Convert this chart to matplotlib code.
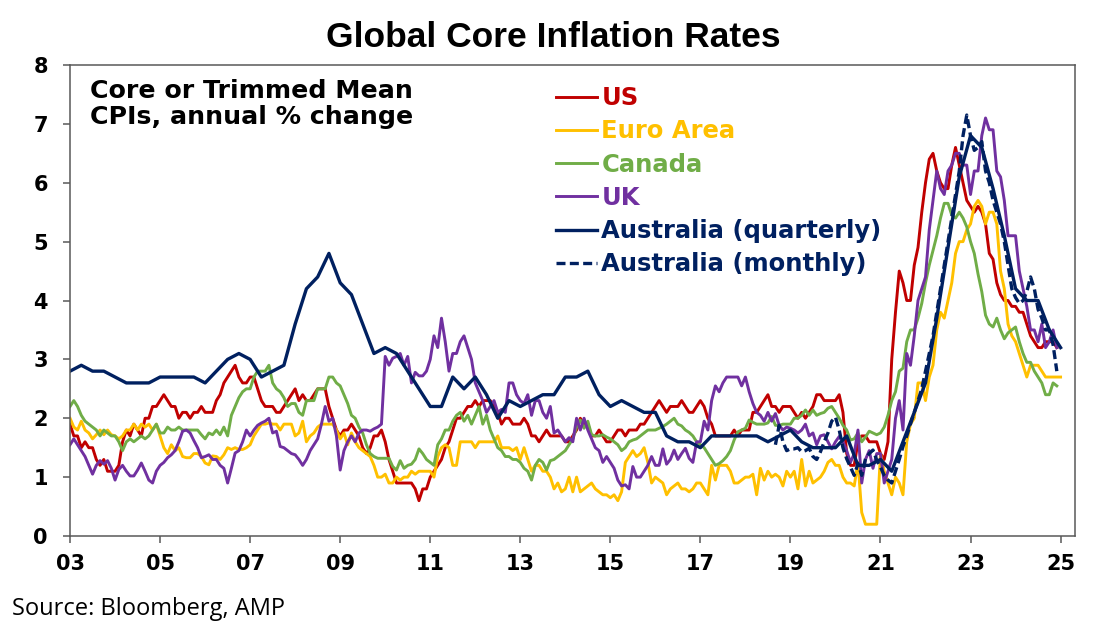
import numpy as np
import matplotlib
matplotlib.use('Agg')
import matplotlib.pyplot as plt

# monthly series, Jan 2003 .. Dec 2024 (one row per year)
us = [1.9, 1.7, 1.7, 1.5, 1.6, 1.5, 1.5, 1.3, 1.2, 1.3, 1.1, 1.1,
      1.1, 1.2, 1.6, 1.8, 1.7, 1.9, 1.8, 1.7, 2.0, 2.0, 2.2, 2.2,
      2.3, 2.4, 2.3, 2.2, 2.2, 2.0, 2.1, 2.1, 2.0, 2.1, 2.1, 2.2,
      2.1, 2.1, 2.1, 2.3, 2.4, 2.6, 2.7, 2.8, 2.9, 2.7, 2.6, 2.6,
      2.7, 2.7, 2.5, 2.3, 2.2, 2.2, 2.2, 2.1, 2.1, 2.2, 2.3, 2.4,
      2.5, 2.3, 2.4, 2.3, 2.3, 2.4, 2.5, 2.5, 2.5, 2.2, 2.0, 1.8,
      1.7, 1.8, 1.8, 1.9, 1.8, 1.7, 1.5, 1.4, 1.5, 1.7, 1.7, 1.8,
      1.6, 1.3, 1.1, 0.9, 0.9, 0.9, 0.9, 0.9, 0.8, 0.6, 0.8, 0.8,
      1.0, 1.1, 1.2, 1.3, 1.5, 1.6, 1.8, 2.0, 2.0, 2.1, 2.2, 2.2,
      2.3, 2.2, 2.3, 2.3, 2.3, 2.2, 2.1, 1.9, 2.0, 2.0, 1.9, 1.9,
      1.9, 2.0, 1.9, 1.7, 1.7, 1.6, 1.7, 1.8, 1.7, 1.7, 1.7, 1.7,
      1.6, 1.6, 1.7, 1.8, 2.0, 1.9, 1.9, 1.7, 1.7, 1.8, 1.7, 1.6,
      1.6, 1.7, 1.8, 1.8, 1.7, 1.8, 1.8, 1.8, 1.9, 1.9, 2.0, 2.1,
      2.2, 2.3, 2.2, 2.1, 2.2, 2.2, 2.2, 2.3, 2.2, 2.1, 2.1, 2.2,
      2.3, 2.2, 2.0, 1.9, 1.7, 1.7, 1.7, 1.7, 1.7, 1.8, 1.7, 1.8,
      1.8, 1.8, 2.1, 2.1, 2.2, 2.3, 2.4, 2.2, 2.2, 2.1, 2.2, 2.2,
      2.2, 2.1, 2.0, 2.1, 2.0, 2.1, 2.2, 2.4, 2.4, 2.3, 2.3, 2.3,
      2.3, 2.4, 2.1, 1.4, 1.2, 1.2, 1.6, 1.7, 1.7, 1.6, 1.6, 1.6,
      1.4, 1.3, 1.6, 3.0, 3.8, 4.5, 4.3, 4.0, 4.0, 4.6, 4.9, 5.5,
      6.0, 6.4, 6.5, 6.2, 6.0, 5.9, 5.9, 6.3, 6.6, 6.3, 6.0, 5.7,
      5.6, 5.5, 5.6, 5.5, 5.3, 4.8, 4.7, 4.3, 4.1, 4.0, 4.0, 3.9,
      3.9, 3.8, 3.8, 3.6, 3.4, 3.3, 3.2, 3.2, 3.3, 3.3, 3.3, 3.2]

# euro area runs one month longer (Jan 2025)
euro = [2.0, 1.85, 1.8, 1.95, 1.8, 1.75, 1.65, 1.72, 1.8, 1.72, 1.8, 1.72,
        1.7, 1.65, 1.7, 1.8, 1.8, 1.9, 1.8, 1.9, 1.85, 1.9, 1.8, 1.9,
        1.7, 1.5, 1.4, 1.55, 1.45, 1.5, 1.35, 1.33, 1.33, 1.4, 1.4, 1.35,
        1.24, 1.21, 1.36, 1.35, 1.3, 1.38, 1.5, 1.47, 1.5, 1.47, 1.47, 1.5,
        1.55, 1.7, 1.8, 1.9, 1.9, 1.92, 1.9, 1.9, 1.8, 1.9, 1.9, 1.9,
        1.7, 1.75, 1.95, 1.6, 1.7, 1.75, 1.85, 1.9, 1.9, 1.9, 1.9, 1.8,
        1.65, 1.75, 1.55, 1.75, 1.6, 1.5, 1.45, 1.4, 1.35, 1.2, 1.0, 1.0,
        1.05, 0.9, 0.9, 1.0, 0.95, 1.0, 1.0, 1.1, 1.05, 1.1, 1.1, 1.1,
        1.1, 1.0, 1.35, 1.5, 1.55, 1.5, 1.2, 1.2, 1.6, 1.6, 1.6, 1.6,
        1.5, 1.6, 1.6, 1.6, 1.6, 1.6, 1.7, 1.5, 1.5, 1.5, 1.45, 1.5,
        1.3, 1.5, 1.3, 1.1, 1.2, 1.2, 1.1, 1.1, 1.0, 0.8, 0.9, 0.75,
        0.8, 1.0, 0.75, 1.0, 0.75, 0.8, 0.85, 0.9, 0.8, 0.75, 0.7, 0.7,
        0.65, 0.7, 0.6, 0.75, 1.25, 1.35, 1.45, 1.35, 1.4, 1.5, 1.25, 0.9,
        1.0, 0.95, 0.9, 0.7, 0.8, 0.85, 0.9, 0.8, 0.8, 0.75, 0.8, 0.9,
        0.9, 0.8, 0.7, 1.2, 0.95, 1.2, 1.2, 1.2, 1.1, 0.9, 0.9, 0.95,
        1.0, 1.0, 1.05, 0.7, 1.15, 0.95, 1.1, 1.0, 1.05, 1.0, 0.85, 1.1,
        1.0, 1.1, 0.8, 1.3, 0.85, 1.1, 0.9, 0.95, 1.0, 1.1, 1.25, 1.3,
        1.2, 1.2, 1.0, 0.9, 0.9, 0.85, 1.25, 0.4, 0.2, 0.2, 0.2, 0.2,
        1.4, 1.1, 0.9, 0.7, 1.0, 0.9, 0.7, 1.6, 1.9, 2.0, 2.6, 2.6,
        2.3, 2.7, 2.9, 3.5, 3.8, 3.7, 4.0, 4.3, 4.8, 5.0, 5.0, 5.2,
        5.3, 5.6, 5.7, 5.6, 5.3, 5.5, 5.5, 5.3, 4.5, 4.2, 3.6, 3.4,
        3.3, 3.1, 2.9, 2.7, 2.9, 2.9, 2.9, 2.8, 2.7, 2.7, 2.7, 2.7,
        2.7]

canada = [2.2, 2.3, 2.2, 2.05, 1.95, 1.9, 1.85, 1.8, 1.7, 1.8, 1.75, 1.7,
          1.7, 1.6, 1.45, 1.6, 1.65, 1.6, 1.65, 1.7, 1.65, 1.7, 1.8, 1.9,
          1.75, 1.75, 1.85, 1.8, 1.8, 1.85, 1.8, 1.8, 1.8, 1.8, 1.8, 1.72,
          1.65, 1.75, 1.72, 1.8, 1.72, 1.85, 1.7, 2.05, 2.2, 2.35, 2.45, 2.5,
          2.5, 2.7, 2.8, 2.8, 2.8, 2.9, 2.6, 2.5, 2.45, 2.35, 2.2, 2.25,
          2.25, 2.1, 2.05, 2.3, 2.3, 2.3, 2.5, 2.5, 2.5, 2.7, 2.7, 2.6,
          2.55, 2.4, 2.25, 2.05, 2.0, 1.85, 1.75, 1.55, 1.4, 1.35, 1.32, 1.32,
          1.32, 1.32, 1.18, 1.12, 1.28, 1.15, 1.2, 1.22, 1.3, 1.48, 1.4, 1.3,
          1.25, 1.2, 1.55, 1.65, 1.8, 1.8, 1.95, 2.05, 2.1, 1.95, 2.05, 1.9,
          2.05, 2.2, 1.9, 2.05, 1.8, 1.65, 1.5, 1.45, 1.35, 1.35, 1.3, 1.3,
          1.25, 1.15, 1.1, 0.95, 1.2, 1.3, 1.25, 1.12, 1.28, 1.3, 1.35, 1.4,
          1.45, 1.55, 1.65, 1.85, 1.97, 1.83, 1.95, 1.72, 1.7, 1.7, 1.72, 1.68,
          1.65, 1.6, 1.55, 1.45, 1.5, 1.6, 1.63, 1.65, 1.7, 1.75, 1.8, 1.8,
          1.8, 1.83, 1.86, 1.9, 1.95, 2.0, 1.9, 1.87, 1.8, 1.76, 1.7, 1.6,
          1.55, 1.5, 1.4, 1.3, 1.2, 1.23, 1.28, 1.35, 1.45, 1.63, 1.77, 1.8,
          1.83, 1.97, 1.93, 1.9, 1.9, 1.9, 1.92, 2.03, 1.88, 1.88, 1.9, 1.9,
          1.9, 2.0, 2.0, 2.05, 2.14, 2.05, 2.14, 2.05, 2.08, 2.1, 2.17, 2.2,
          2.1, 2.0, 1.88, 1.8, 1.63, 1.65, 1.75, 1.6, 1.68, 1.78, 1.75, 1.72,
          1.75, 1.85, 2.05, 2.3, 2.45, 2.8, 2.85, 3.3, 3.5, 3.5, 3.7, 3.95,
          4.3, 4.6, 4.85, 5.1, 5.4, 5.65, 5.65, 5.45, 5.4, 5.5, 5.4, 5.25,
          5.0, 4.8, 4.45, 4.15, 3.75, 3.6, 3.55, 3.7, 3.5, 3.35, 3.45, 3.5,
          3.55, 3.3, 3.1, 2.95, 2.95, 2.8, 2.7, 2.6, 2.4, 2.4, 2.6, 2.55]

uk = [1.55, 1.65, 1.55, 1.45, 1.35, 1.2, 1.05, 1.2, 1.28, 1.22, 1.28, 1.15,
      0.95, 1.13, 1.2, 1.1, 1.02, 1.02, 1.12, 1.24, 1.1, 0.95, 0.9, 1.1,
      1.2, 1.25, 1.33, 1.38, 1.45, 1.6, 1.78, 1.8, 1.75, 1.62, 1.5, 1.33,
      1.35, 1.38, 1.3, 1.3, 1.2, 1.15, 0.9, 1.15, 1.41, 1.45, 1.6, 1.8,
      1.7, 1.8, 1.88, 1.92, 1.95, 2.0, 1.75, 1.78, 1.52, 1.5, 1.45, 1.4,
      1.38, 1.3, 1.2, 1.3, 1.45, 1.55, 1.65, 1.9, 2.2, 1.95, 2.0, 1.7,
      1.12, 1.45, 1.6, 1.7, 1.6, 1.75, 1.8, 1.8, 1.78, 1.82, 1.85, 1.9,
      3.05, 2.9, 3.02, 3.05, 3.1, 2.9, 3.05, 2.6, 2.78, 2.72, 2.72, 2.8,
      3.0, 3.4, 3.2, 3.7, 3.3, 2.8, 3.1, 3.1, 3.3, 3.4, 3.2, 3.0,
      2.6, 2.45, 2.3, 2.1, 2.2, 2.3, 2.1, 2.15, 2.1, 2.6, 2.6, 2.4,
      2.3, 2.25, 2.4, 2.05, 2.3, 2.3, 2.1, 2.0, 2.2, 1.75, 1.8, 1.7,
      1.6, 1.67, 1.6, 2.0, 1.8, 2.0, 1.8, 1.65, 1.5, 1.45, 1.25, 1.35,
      1.25, 1.15, 0.95, 0.85, 0.87, 0.8, 1.18, 1.0, 1.0, 1.1, 1.2, 1.35,
      1.2, 1.2, 1.48, 1.22, 1.3, 1.46, 1.3, 1.4, 1.49, 1.32, 1.25, 1.6,
      1.6, 1.95, 1.8, 2.3, 2.55, 2.45, 2.6, 2.7, 2.7, 2.7, 2.7, 2.55,
      2.7, 2.45, 2.25, 2.1, 2.05, 1.95, 2.1, 1.95, 2.08, 1.88, 1.8, 1.85,
      1.83, 1.8, 1.75, 1.8, 1.9, 1.7, 1.75, 1.55, 1.7, 1.72, 1.6, 1.48,
      1.6, 1.69, 1.6, 1.45, 1.25, 1.4, 1.8, 0.9, 1.3, 1.45, 1.15, 1.4,
      1.4, 0.9, 1.1, 1.3, 2.0, 2.3, 1.8, 3.1, 2.9, 3.4, 4.0, 4.2,
      4.4, 5.2, 5.7, 6.2, 5.9, 5.8, 6.2, 6.3, 6.5, 6.5, 6.3, 6.3,
      5.8, 6.2, 6.2, 6.8, 7.1, 6.9, 6.9, 6.2, 6.1, 5.7, 5.1, 5.1,
      5.1, 4.5, 4.2, 3.9, 3.5, 3.5, 3.3, 3.6, 3.2, 3.3, 3.5, 3.2]

# Australia trimmed mean, quarterly, plotted 2003.0 .. 2025.0
aus_q = [2.8, 2.9, 2.8, 2.8,
         2.7, 2.6, 2.6, 2.6,
         2.7, 2.7, 2.7, 2.7,
         2.6, 2.8, 3.0, 3.1,
         3.0, 2.7, 2.8, 2.9,
         3.6, 4.2, 4.4, 4.8,
         4.3, 4.1, 3.6, 3.1,
         3.2, 3.1, 2.8, 2.5,
         2.2, 2.2, 2.7, 2.5,
         2.7, 2.4, 2.0, 2.3,
         2.2, 2.3, 2.4, 2.4,
         2.7, 2.7, 2.8, 2.4,
         2.2, 2.3, 2.2, 2.1,
         2.1, 1.7, 1.6, 1.6,
         1.5, 1.7, 1.7, 1.7,
         1.7, 1.7, 1.6, 1.7,
         1.8, 1.6, 1.5, 1.5,
         1.5, 1.7, 1.2, 1.2,
         1.3, 1.1, 1.6, 2.1,
         2.6, 3.7, 4.9, 6.1,
         6.8, 6.6, 5.9, 5.1,
         4.2, 4.0, 4.0, 3.5,
         3.2]

# Australia monthly indicator, Sep 2018 .. Dec 2024
aus_m = [1.55, 1.88, 1.6, 1.45,
         1.48, 1.48, 1.5, 1.43, 1.45, 1.49, 1.35, 1.3, 1.43, 1.6, 1.75, 1.95,
         2.02, 1.8, 1.5, 1.31, 1.17, 1.03, 1.23, 1.03, 1.31, 1.4, 1.46, 1.29,
         1.17, 1.03, 0.95, 0.9, 1.1, 1.3, 1.52, 1.7, 1.9, 2.1, 2.3, 2.5,
         2.8, 3.1, 3.4, 3.8, 4.2, 4.6, 5.0, 5.4, 5.8, 6.2, 6.8, 7.15,
         6.8, 6.55, 6.6, 6.7, 6.2, 6.0, 5.7, 5.5, 5.3, 5.0, 4.6, 4.2,
         4.05, 3.95, 4.0, 4.15, 4.4, 4.2, 3.85, 3.7, 3.5, 3.5, 3.25, 2.8]

year_ticks = list(range(2003, 2026, 2))
year_labels = ['%02d' % (y % 100) for y in year_ticks]

x_m = 2003 + np.arange(len(us)) / 12
x_euro = 2003 + np.arange(len(euro)) / 12
x_q = 2003 + np.arange(len(aus_q)) * 0.25
x_am = 2018 + 8 / 12 + np.arange(len(aus_m)) / 12

fig = plt.figure(figsize=(11.03, 6.41), dpi=100)
ax = fig.add_axes([0.0635, 0.1638, 0.9111, 0.7348])

lw = 2.1
ax.plot(x_m, us, color='#C00000', lw=lw, label='US')
ax.plot(x_euro, euro, color='#FFC000', lw=lw, label='Euro Area')
ax.plot(x_m, canada, color='#70AD47', lw=lw, label='Canada')
ax.plot(x_m, uk, color='#7030A0', lw=lw, label='UK')
ax.plot(x_q, aus_q, color='#002060', lw=2.4, label='Australia (quarterly)')
ax.plot(x_am, aus_m, color='#002060', lw=2.4, dashes=(2.7, 1.3),
        label='Australia (monthly)')

ax.set_xlim(2003, 2025.32)
ax.set_ylim(0, 8)
ax.set_xticks(year_ticks)
ax.set_xticklabels(year_labels)
ax.set_yticks(range(0, 9))

for s in ax.spines.values():
    s.set_color('#595959')
    s.set_linewidth(1.1)
ax.tick_params(axis='both', direction='out', color='#595959', width=1.1,
               length=5, labelsize=15)
ax.tick_params(axis='x', pad=8)
ax.tick_params(axis='y', pad=11)
for lab in ax.get_xticklabels() + ax.get_yticklabels():
    lab.set_fontweight('bold')

leg = ax.legend(loc='upper left', bbox_to_anchor=(0.484, 0.955), frameon=False,
                prop={'weight': 'bold', 'size': 17.5}, labelcolor='linecolor',
                handlelength=1.65, handletextpad=0.2, labelspacing=0.38,
                borderaxespad=0, borderpad=0)

ax.text(0.02, 0.97, 'Core or Trimmed Mean\nCPIs, annual % change',
        transform=ax.transAxes, ha='left', va='top', fontsize=18.2,
        fontweight='bold', linespacing=1.1)

fig.text(0.502, 0.942, 'Global Core Inflation Rates', ha='center', va='center',
         fontsize=25.5, fontweight='bold', family='Liberation Sans')
fig.text(12 / 1103, 1 - 609 / 641, 'Source: Bloomberg, AMP', ha='left',
         va='center', fontsize=17, family='Open Sans')

fig.savefig('out.png', dpi=100)
